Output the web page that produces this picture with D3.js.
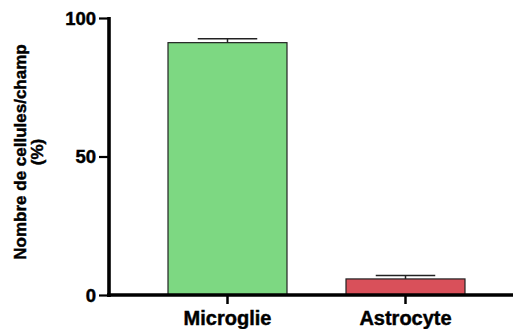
<!DOCTYPE html>
<html>
<head>
<meta charset="utf-8">
<script src="https://cdn.jsdelivr.net/npm/d3@7"></script>
<style>
  html, body { margin: 0; padding: 0; background: #fff; }
  svg { display: block; }
  text { font-family: "Liberation Sans", Arial, sans-serif; font-weight: bold; fill: #000; stroke: #000; stroke-width: 0.45px; }
</style>
</head>
<body>
<svg id="chart" width="515" height="329"></svg>
<script>
const categories = ["Microglie", "Astrocyte"];
const values = [91.1, 5.8];
const errors = [1.4, 1.2];
const colors = ["#7dd882", "#d9505a"];
const yTicks = [0, 50, 100];
const yTitleLines = ["Nombre de cellules/champ", "(%)"];

const svg = d3.select("#chart");
const x = d3.scaleBand().domain(categories).range([138.5, 494.5]).paddingInner(0.3315).paddingOuter(0.16575);
const y = d3.scaleLinear().domain([0, 100]).range([295, 18]);
const axisX0 = 109;

// Bars
svg.selectAll("rect.bar").data(categories).enter().append("rect")
  .attr("class", "bar")
  .attr("x", d => x(d))
  .attr("y", (d, i) => y(values[i]))
  .attr("width", x.bandwidth())
  .attr("height", (d, i) => y(0) - y(values[i]))
  .attr("fill", (d, i) => colors[i])
  .attr("stroke", "#222")
  .attr("stroke-width", 1.2);

// Error bars (upper only)
const eb = svg.append("g").attr("stroke", "#222").attr("stroke-width", 1.5);
categories.forEach((c, i) => {
  const cx = x(c) + x.bandwidth() / 2;
  const hw = x.bandwidth() / 4;
  eb.append("line").attr("x1", cx).attr("x2", cx).attr("y1", y(values[i])).attr("y2", y(values[i] + errors[i]));
  eb.append("line").attr("x1", cx - hw).attr("x2", cx + hw).attr("y1", y(values[i] + errors[i])).attr("y2", y(values[i] + errors[i]));
});

// Y axis
const yAxis = d3.axisLeft(y).tickValues(yTicks).tickSize(10).tickPadding(3).tickFormat(d3.format("d"));
const gy = svg.append("g").attr("transform", `translate(${axisX0},0)`).call(yAxis);
gy.select(".domain").remove();
gy.selectAll(".tick line").attr("stroke", "#000").attr("stroke-width", 2.2);
gy.selectAll(".tick text").style("font-size", "18.5px").style("font-family", "Liberation Sans, Arial, sans-serif").style("font-weight", "bold").attr("fill", "#000").attr("dy", "0.35em");
svg.append("line").attr("x1", axisX0).attr("x2", axisX0).attr("y1", y(100) - 1).attr("y2", y(0) + 2)
  .attr("stroke", "#000").attr("stroke-width", 3.6);

// X axis
const xAxis = d3.axisBottom(x).tickSize(9).tickPadding(7);
const gx = svg.append("g").attr("transform", `translate(0,${y(0)})`).call(xAxis);
gx.select(".domain").remove();
gx.selectAll(".tick line").attr("stroke", "#000").attr("stroke-width", 2.5);
gx.selectAll(".tick text").style("font-size", "20px").style("font-family", "Liberation Sans, Arial, sans-serif").style("font-weight", "bold").attr("fill", "#000");
svg.append("line").attr("x1", axisX0 - 2).attr("x2", 513).attr("y1", y(0)).attr("y2", y(0))
  .attr("stroke", "#000").attr("stroke-width", 3.6);

// Y title
const yt = svg.append("text").attr("transform", "translate(26,152) rotate(-90)")
  .attr("text-anchor", "middle").style("font-size", "17px");
yTitleLines.forEach((l, i) => {
  yt.append("tspan").attr("x", 0).attr("dy", i === 0 ? 0 : 16.5).text(l);
});
</script>
</body>
</html>
